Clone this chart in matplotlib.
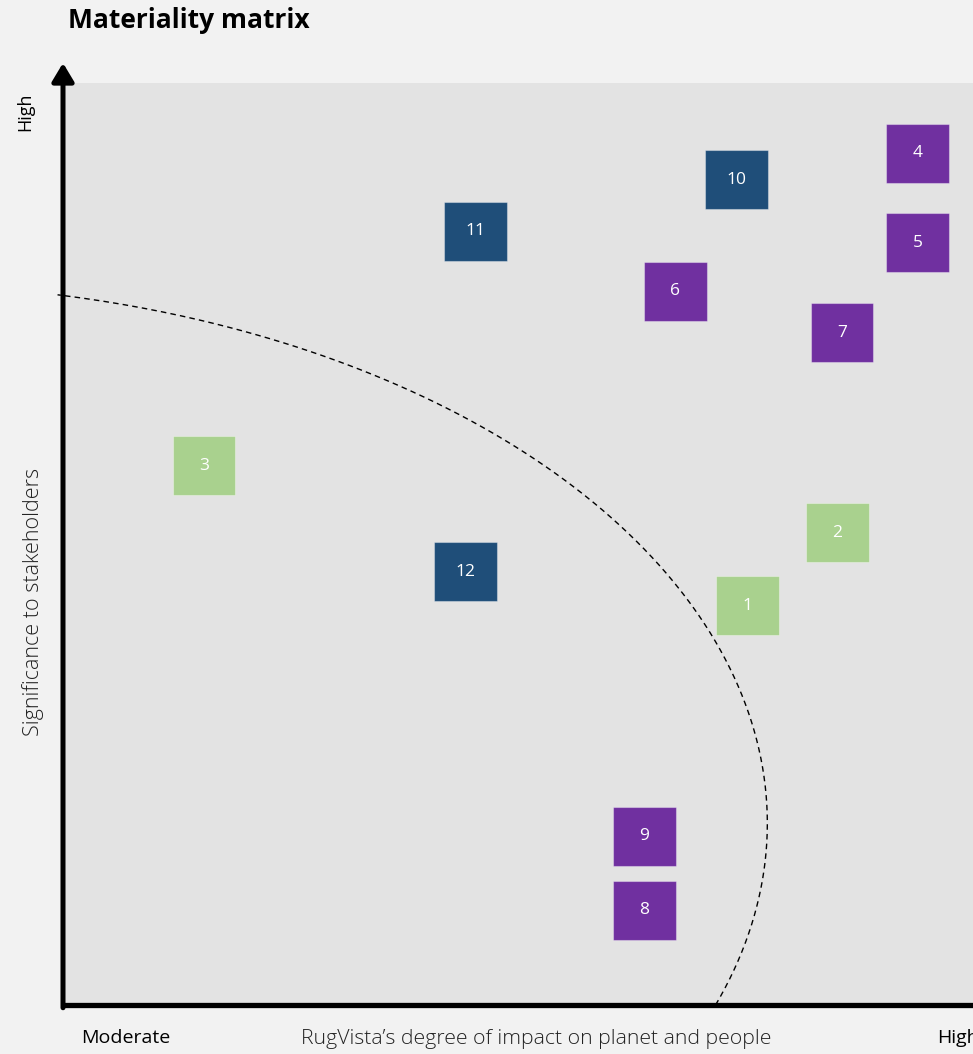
import numpy as np
import matplotlib
matplotlib.use("Agg")
import matplotlib.pyplot as plt
from matplotlib.patches import Rectangle

plt.rcParams['font.family'] = ['Open Sans', 'DejaVu Sans']

# topic number, impact (x) and stakeholder significance (y), 0-10 scale
topics = [1, 2, 3, 4, 5, 6, 7, 8, 9, 10, 11, 12]
impact = [7.52, 8.51, 1.55, 9.39, 9.39, 6.73, 8.56, 6.39, 6.39, 7.40, 4.53, 4.42]
significance = [4.33, 5.12, 5.85, 9.24, 8.27, 7.74, 7.29, 1.03, 1.83, 8.95, 8.39, 4.70]
group = ['env', 'env', 'env', 'soc', 'soc', 'soc', 'soc', 'soc', 'soc', 'gov', 'gov', 'gov']

colors = {'env': '#A9D18E', 'soc': '#7030A0', 'gov': '#1F4E79'}

# materiality threshold ellipse (centre, semi axes)
ell_cx, ell_cy, ell_a, ell_b = -2.0, 1.97, 9.74, 5.85

W, H = 973, 1054
fig = plt.figure(figsize=(W / 100, H / 100), dpi=100)
fig.patch.set_facecolor('#F2F2F2')

left, right, top, bottom = 63, 973, 83, 1005
ax = fig.add_axes([left / W, 1 - bottom / H, (right - left) / W, (bottom - top) / H])
ax.set_facecolor('#E3E3E3')
ax.set_xlim(0, 10)
ax.set_ylim(0, 10)
ax.set_xticks([])
ax.set_yticks([])
for s in ax.spines.values():
    s.set_visible(False)

# threshold curve
t0 = np.arcsin((0 - ell_cy) / ell_b)
t1 = np.arccos((-0.06 - ell_cx) / ell_a)
t = np.linspace(t0, t1, 300)
ax.plot(ell_cx + ell_a * np.cos(t), ell_cy + ell_b * np.sin(t),
        ls=(0, (4, 3)), color='black', lw=1.0, clip_on=False, zorder=2)

bw, bh = 0.69, 0.64
for n, x, y, g in zip(topics, impact, significance, group):
    ax.add_patch(Rectangle((x - bw / 2, y - bh / 2), bw, bh, facecolor=colors[g],
                           edgecolor=(1, 1, 1, 0.35), lw=0.8, zorder=3))
    ax.text(x, y, str(n), color='white', ha='center', va='center', fontsize=12.5, zorder=4)

# axes lines
ax.plot([0, 1.05], [0, 0], transform=ax.transAxes, color='black', lw=3.8,
        clip_on=False, solid_capstyle='butt', zorder=5)
ax.annotate('', xy=(0, (bottom - 63) / (bottom - top)), xytext=(0, -0.003),
            xycoords='axes fraction',
            arrowprops=dict(arrowstyle='-|>,head_width=0.3,head_length=0.5',
                            lw=3.6, color='black', mutation_scale=22,
                            shrinkA=0, shrinkB=0), zorder=5)

fig.text(68 / W, 1 - 20 / H, 'Materiality matrix', fontsize=19, fontweight='bold',
         ha='left', va='center')
fig.text(25 / W, 1 - 112 / H, 'High', fontsize=13, rotation=90, ha='center', va='center')
fig.text(33 / W, 1 - 602 / H, 'Significance to stakeholders', fontsize=15.5,
         fontweight='light', rotation=90, ha='center', va='center', color='#222222')
fig.text(126 / W, 1 - 1038 / H, 'Moderate', fontsize=14, ha='center', va='center')
fig.text(536 / W, 1 - 1039 / H, 'RugVista\u2019s degree of impact on planet and people',
         fontsize=15.3, fontweight='light', ha='center', va='center', color='#222222')
fig.text(937 / W, 1 - 1038 / H, 'High', fontsize=14, ha='left', va='center')

fig.savefig('out.png', dpi=100, facecolor=fig.get_facecolor())
